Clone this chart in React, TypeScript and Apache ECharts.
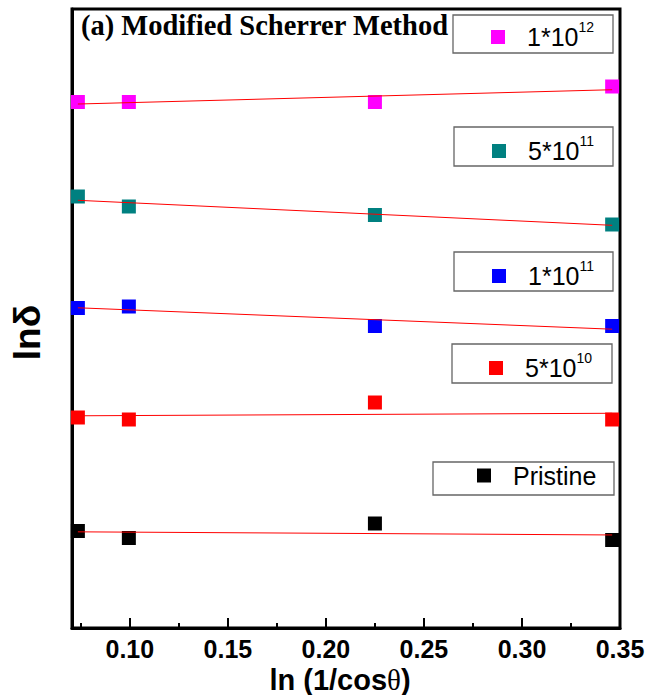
import React, { useEffect, useRef } from "react";
import * as echarts from "echarts";

// x positions: ln(1/cosθ)
const xValues = [0.0735, 0.0995, 0.225, 0.346];
// lnδ (arbitrary offset units)
const pristine = [9.7, 9.0, 10.45, 8.8];
const flu5e10 = [21.05, 20.85, 22.55, 20.85];
const flu1e11 = [32.0, 32.15, 30.2, 30.2];
const flu5e11 = [43.15, 42.15, 41.3, 40.35];
const flu1e12 = [52.6, 52.6, 52.6, 54.15];

const seriesNames = ["Pristine", "5*10^10", "1*10^11", "5*10^11", "1*10^12"];
const seriesValues = [pristine, flu5e10, flu1e11, flu5e11, flu1e12];
const seriesColors = ["#000000", "#ff0000", "#0000ff", "#008080", "#ff00ff"];

const majorTicks = [0.1, 0.15, 0.2, 0.25, 0.3, 0.35];
const minorTicks = [0.075, 0.125, 0.175, 0.225, 0.275, 0.325];

const SANS = "'Liberation Sans', Arial, sans-serif";
const SERIF = "'Liberation Serif', 'Times New Roman', serif";

// legend layout (pixels)
const legendLayout = [
  { name: "1*10^12", left: 491, cy: 37, box: [453, 15, 160, 38] },
  { name: "5*10^11", left: 492, cy: 151, box: [454, 127, 159, 39] },
  { name: "1*10^11", left: 492, cy: 276, box: [454, 252, 159, 39] },
  { name: "5*10^10", left: 489, cy: 368, box: [452, 344, 160, 39] },
  { name: "Pristine", left: 477, cy: 480, box: [433, 462, 181, 33] },
];

function linearFit(xs: number[], ys: number[]) {
  const n = xs.length;
  const mx = xs.reduce((a, b) => a + b, 0) / n;
  const my = ys.reduce((a, b) => a + b, 0) / n;
  let sxy = 0;
  let sxx = 0;
  for (let i = 0; i < n; i++) {
    sxy += (xs[i] - mx) * (ys[i] - my);
    sxx += (xs[i] - mx) * (xs[i] - mx);
  }
  const slope = sxy / sxx;
  const b = my - slope * mx;
  const x0 = Math.min(...xs);
  const x1 = Math.max(...xs);
  return [
    [x0, slope * x0 + b],
    [x1, slope * x1 + b],
  ];
}

function legendFormatter(name: string) {
  const m = name.match(/^(.*)\^(\d+)$/);
  if (m) return `{a|${m[1]}}{sup|${m[2]}}`;
  return `{a|${name}}`;
}

export default function App() {
  const ref = useRef<HTMLDivElement>(null);
  useEffect(() => {
    if (!ref.current) return;
    const chart = echarts.init(ref.current, null, { renderer: "svg" });

    const scatterSeries = seriesNames.map((name, i) => ({
      name,
      type: "scatter",
      symbol: "rect",
      symbolSize: 14,
      itemStyle: { color: seriesColors[i], opacity: 1 },
      data: xValues.map((x, j) => [x, seriesValues[i][j]]),
      z: 2,
    }));
    const fitSeries = seriesNames.map((name, i) => ({
      name: name + " fit",
      type: "line",
      symbol: "none",
      lineStyle: { color: "#ff0000", width: 1 },
      data: linearFit(xValues, seriesValues[i]),
      z: 3,
      silent: true,
    }));

    const option: any = {
      animation: false,
      backgroundColor: "#ffffff",
      title: {
        text: "(a) Modified Scherrer Method",
        left: 81,
        top: 11,
        padding: 0,
        textStyle: {
          fontFamily: SERIF,
          fontWeight: "bold",
          fontSize: 28.5,
          color: "#000",
        },
      },
      grid: {
        left: 72,
        right: 42,
        top: 9,
        bottom: 67,
        show: true,
        borderColor: "#000",
        borderWidth: 3,
        outerBoundsMode: "none",
        containLabel: false,
      },
      legend: legendLayout.map((l) => ({
        data: [l.name],
        left: l.left,
        top: l.cy - 17,
        padding: 0,
        itemWidth: 14,
        itemHeight: 14,
        icon: "rect",
        selectedMode: false,
        formatter: legendFormatter,
        itemStyle: { opacity: 1 },
        textStyle: {
          color: "#000",
          fontFamily: SANS,
          fontSize: 25,
          rich: {
            a: { fontFamily: SANS, fontSize: 25, lineHeight: 34, padding: [0, 0, 0, 17], color: "#000" },
            sup: { fontFamily: SANS, fontSize: 14, lineHeight: 14, verticalAlign: "top", color: "#000" },
          },
        },
      })),
      graphic: legendLayout.map((l) => ({
        type: "rect",
        shape: { x: l.box[0], y: l.box[1], width: l.box[2], height: l.box[3] },
        style: { fill: "transparent", stroke: "#666", lineWidth: 1.3 },
        z: 1,
      })),
      xAxis: [
        {
          type: "value",
          min: 0.0705,
          max: 0.35,
          position: "bottom",
          axisLine: { show: true, lineStyle: { color: "#000", width: 3 } },
          axisTick: {
            show: true,
            inside: true,
            length: 10,
            customValues: majorTicks,
            lineStyle: { color: "#000", width: 2 },
          },
          axisLabel: {
            customValues: majorTicks,
            formatter: (v: number) => v.toFixed(2),
            fontFamily: SANS,
            fontWeight: "bold",
            fontSize: 25,
            color: "#000",
            margin: 8,
          },
          splitLine: { show: false },
          name: "{a|ln (1/cos}{b|θ}{a|)}",
          nameLocation: "middle",
          nameGap: 31,
          nameTextStyle: {
            padding: [0, 12, 0, 0],
            rich: {
              a: { fontFamily: SANS, fontWeight: "bold", fontSize: 29, lineHeight: 32, color: "#000" },
              b: { fontFamily: SERIF, fontSize: 29, lineHeight: 32, color: "#000" },
            },
          },
        },
        {
          type: "value",
          min: 0.0705,
          max: 0.35,
          position: "bottom",
          axisLine: { show: false },
          axisTick: {
            show: true,
            inside: true,
            length: 5,
            customValues: minorTicks,
            lineStyle: { color: "#000", width: 2 },
          },
          axisLabel: { show: false },
          splitLine: { show: false },
        },
      ],
      yAxis: {
        type: "value",
        min: 0,
        max: 61.9,
        axisLine: { show: true, lineStyle: { color: "#000", width: 3 } },
        axisTick: { show: false },
        axisLabel: { show: false },
        splitLine: { show: false },
        name: "lnδ",
        nameLocation: "middle",
        nameRotate: 90,
        nameGap: 26,
        nameTextStyle: {
          fontFamily: SANS,
          fontWeight: "bold",
          fontSize: 37,
          color: "#000",
          padding: [0, 28, 0, 0],
        },
      },
      series: [...scatterSeries, ...fitSeries],
    };
    chart.setOption(option);
    return () => chart.dispose();
  }, []);
  return (
    <div
      ref={ref}
      style={{ position: "fixed", left: 0, top: 0, width: 662, height: 695 }}
    />
  );
}
